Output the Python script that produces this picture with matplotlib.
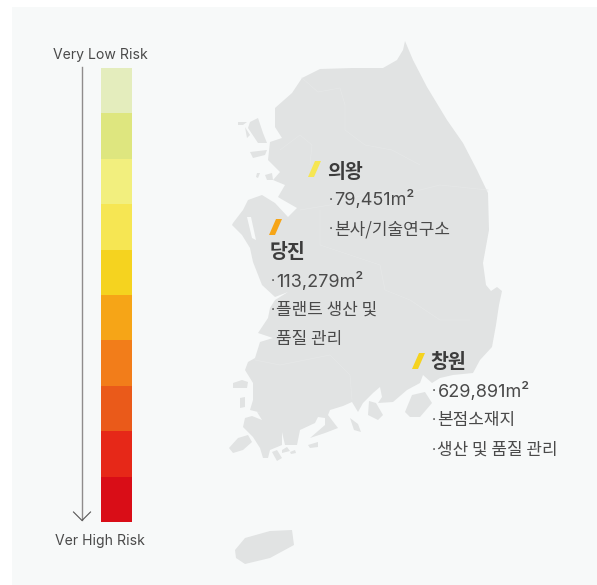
import matplotlib
matplotlib.use("Agg")
import matplotlib.pyplot as plt
from matplotlib.patches import Polygon, Rectangle

plt.rcParams["font.family"] = ["Inter", "Noto Sans CJK KR", "DejaVu Sans"]

WIDTH, HEIGHT = 597, 585
LAND = "#e1e3e3"
PANEL = "#f7f9f9"
TEXT = "#4a4a4a"

risk_levels = [1, 2, 3, 4, 5, 6, 7, 8, 9, 10]
risk_colors = ["#e4edbd", "#dee67f", "#f2ef7e", "#f6e653", "#f5d31f",
               "#f6a517", "#f27d1a", "#ea5a1a", "#e62818", "#d90d17"]
scale_top = "Very Low Risk"
scale_bottom = "Ver High Risk"

site_names = ["의왕", "당진", "창원"]
site_colors = ["#f6e653", "#f6a517", "#f5d31f"]
site_areas = ["79,451m²", "113,279m²", "629,891m²"]
site_details = [
    ["본사/기술연구소"],
    ["플랜트 생산 및", "품질 관리"],
    ["본점소재지", "생산 및 품질 관리"],
]
# the second line of the Dangjin text carries no bullet
site_bullets = [[True], [True, False], [True, True]]

# map outline in pixels
mainland = [(405, 41), (413, 60), (427, 87), (447, 120), (463, 143), (477, 170), (488, 193), (489, 230),
            (483, 263), (486, 285), (491, 291), (497, 287), (502, 291), (499, 305), (496, 325), (492, 347),
            (480, 360), (473, 373), (453, 375), (440, 378), (432, 383), (423, 375), (420, 383), (407, 390),
            (393, 402), (378, 403), (382, 397), (380, 387), (373, 393), (363, 403), (358, 412), (352, 402),
            (343, 406), (330, 410), (328, 415), (338, 428), (325, 433), (310, 438), (325, 425), (325, 418),
            (318, 417), (315, 423), (300, 430), (297, 445), (285, 445), (282, 432), (282, 445), (270, 450),
            (268, 458), (263, 458), (260, 448), (253, 437), (243, 427), (245, 418), (252, 416), (262, 420),
            (257, 412), (262, 413), (250, 410), (253, 400), (253, 383), (245, 370), (248, 362), (255, 358),
            (260, 342), (273, 338), (258, 333), (268, 318), (270, 308), (275, 300), (288, 292), (275, 297),
            (262, 285), (253, 262), (250, 248), (242, 235), (232, 225), (233, 223), (243, 210), (248, 200),
            (262, 195), (275, 203), (288, 217), (297, 208), (283, 200), (278, 197), (285, 185), (273, 180),
            (280, 172), (275, 167), (268, 160), (270, 142), (282, 138), (275, 127), (275, 108), (292, 93),
            (302, 78), (320, 69), (353, 68), (383, 68), (397, 60), (403, 50)]
islands = [
    [(235, 550), (245, 538), (270, 531), (292, 530), (294, 545), (270, 558), (245, 564), (236, 558)],
    [(229, 448), (238, 438), (248, 435), (252, 442), (243, 450), (233, 453)],
    [(272, 452), (277, 450), (282, 458), (277, 461)],
    [(282, 450), (287, 447), (290, 451), (282, 453)],
    [(290, 452), (295, 450), (296, 453), (291, 454)],
    [(308, 445), (318, 442), (318, 447), (310, 448)],
    [(233, 383), (242, 380), (248, 382), (247, 388), (233, 388)],
    [(240, 398), (245, 397), (245, 407), (240, 408)],
    [(250, 122), (258, 118), (263, 133), (267, 143), (258, 143), (248, 128)],
    [(238, 122), (247, 122), (243, 125), (238, 125)],
    [(250, 152), (267, 150), (265, 155), (253, 158)],
    [(245, 127), (250, 135), (247, 138)],
    [(257, 173), (260, 173), (258, 178), (256, 177)],
    [(265, 175), (272, 173), (273, 180), (267, 180)],
    [(369, 401), (376, 403), (383, 415), (378, 420), (368, 415)],
    [(405, 412), (412, 395), (425, 392), (432, 403), (420, 417), (410, 417)],
    [(350, 418), (358, 424), (361, 432), (354, 430)],
]
# narrow water channels cut into the land
channels = [
    [(247, 217), (251, 217), (256, 240), (252, 238)],
]
borders = [
    [(302, 78), (318, 92), (340, 88), (345, 105), (345, 130), (365, 145), (392, 150), (420, 165)],
    [(280, 150), (300, 135), (312, 145), (310, 165)],
    [(300, 210), (330, 205), (380, 190), (400, 195), (440, 185), (488, 190)],
    [(320, 210), (320, 245), (380, 265), (385, 290), (410, 300), (440, 320), (470, 320)],
    [(255, 360), (280, 365), (330, 355), (350, 375), (352, 400)],
]


def main():
    fig = plt.figure(figsize=(WIDTH / 100, HEIGHT / 100), dpi=100)
    ax = fig.add_axes([0, 0, 1, 1])
    ax.set_xlim(0, WIDTH)
    ax.set_ylim(HEIGHT, 0)
    ax.axis("off")
    ax.add_patch(Rectangle((12, 7), WIDTH - 12, HEIGHT - 7, color=PANEL, lw=0))

    ax.add_patch(Polygon(mainland, color=LAND, lw=0))
    for island in islands:
        ax.add_patch(Polygon(island, color=LAND, lw=0))
    for channel in channels:
        ax.add_patch(Polygon(channel, color=PANEL, lw=0))
    for line in borders:
        ax.plot([p[0] for p in line], [p[1] for p in line], color="#e6e8e8", lw=0.5)

    # scale arrow
    ax.plot([82, 82], [67, 520], color="#8f8c8c", lw=1.0)
    ax.plot([73.5, 82, 90.5], [512, 520.5, 512], color="#555555", lw=0.8)
    ax.text(100.5, 54.5, scale_top, fontsize=10.1, color=TEXT, ha="center", va="center")
    ax.text(100, 540.5, scale_bottom, fontsize=10.1, color=TEXT, ha="center", va="center")

    # site labels
    slash_x = [308, 269, 412]
    slash_y = [177, 235, 369]
    title_pos = [(327.5, 172), (269.5, 253), (430, 363)]
    detail_x = [329, 271, 432]
    area_y = [200, 281, 391]
    detail_y = [[229], [310, 339], [420, 450]]
    for i, name in enumerate(site_names):
        x0, y0 = slash_x[i], slash_y[i]
        ax.add_patch(Polygon([(x0, y0), (x0 + 7, y0 - 16), (x0 + 13, y0 - 16), (x0 + 6, y0)],
                             color=site_colors[i], lw=0))
        ax.text(title_pos[i][0], title_pos[i][1], name, fontsize=14, fontweight="bold",
                color="#3c3c3c", va="center")
        ax.text(detail_x[i], area_y[i], "·", fontsize=10, color=TEXT, va="center")
        ax.text(detail_x[i] + 5.5, area_y[i], site_areas[i], fontsize=13, color=TEXT, va="center")
        for line, y, has_bullet in zip(site_details[i], detail_y[i], site_bullets[i]):
            if has_bullet:
                ax.text(detail_x[i], y, "·", fontsize=10, color=TEXT, va="center")
            ax.text(detail_x[i] + 5, y, line, fontsize=12.2, color=TEXT, va="center",
                    family=["Noto Sans CJK KR", "DejaVu Sans"])

    # risk bar
    bar_ax = fig.add_axes([101 / WIDTH, 1 - 522 / HEIGHT, 31 / WIDTH, 454 / HEIGHT])
    bar_ax.bar([0] * len(risk_levels), [1] * len(risk_levels), bottom=[v - 1 for v in risk_levels],
               width=1, color=risk_colors)
    bar_ax.set_xlim(-0.5, 0.5)
    bar_ax.set_ylim(len(risk_levels), 0)
    bar_ax.axis("off")

    fig.savefig("out.png", dpi=100)


main()
